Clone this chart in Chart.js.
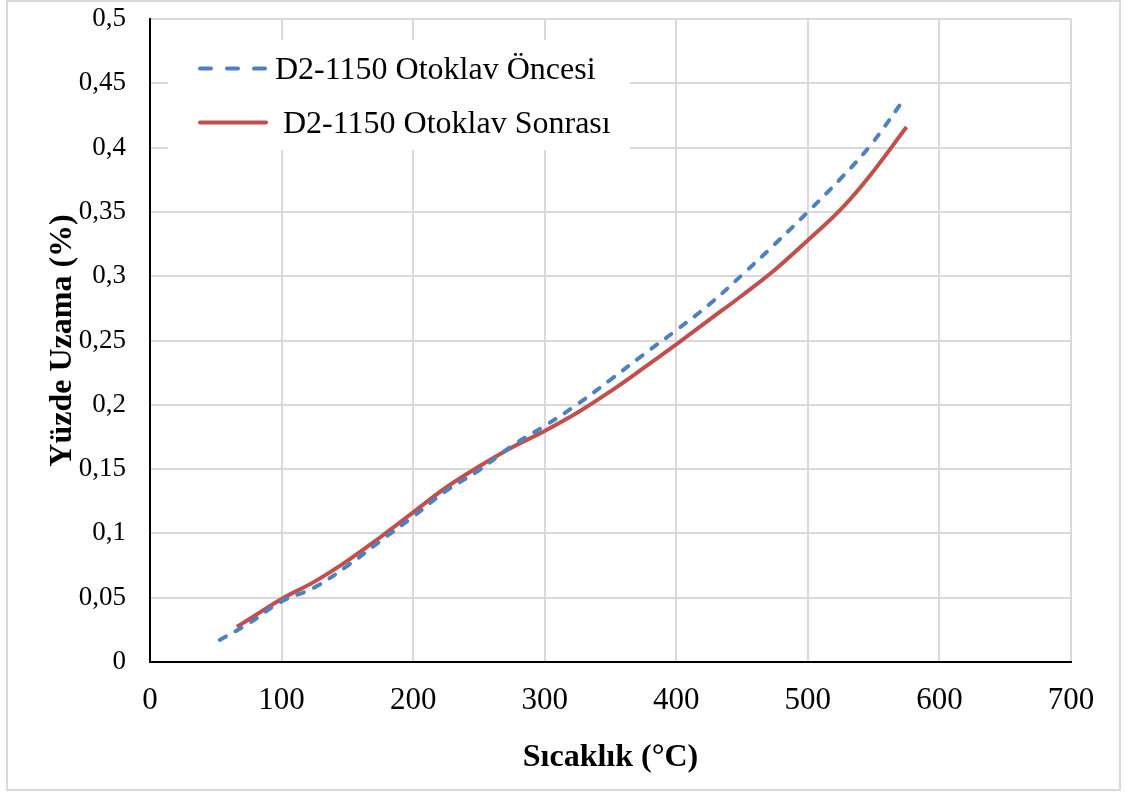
<!DOCTYPE html>
<html>
<head>
<meta charset="utf-8">
<script src="https://cdn.jsdelivr.net/npm/chart.js@4"></script>
<style>
  html, body { margin: 0; padding: 0; background: #fff; }
  #wrap { position: absolute; left: 0; top: 0; width: 1127px; height: 793px; }
</style>
</head>
<body>
<div id="wrap"><canvas id="chart" width="1127" height="793"></canvas></div>
<script>
// DONNEES
const seriesNames = ['D2-1150 Otoklav Öncesi', 'D2-1150 Otoklav Sonrası'];

const onceT = [53, 75, 100, 125, 150, 175, 200, 225, 250, 275, 300, 325, 350, 375, 400, 425, 450, 475, 500, 525, 547, 572];
const onceY = [0.0172, 0.030, 0.047, 0.058, 0.0748, 0.094, 0.113, 0.133, 0.149, 0.168, 0.1836, 0.2005, 0.2195, 0.239, 0.258, 0.278, 0.301, 0.325, 0.350, 0.376, 0.401, 0.436];

const sonraT = [66, 75, 100, 125, 150, 175, 200, 225, 250, 275, 300, 325, 350, 375, 400, 425, 450, 475, 500, 525, 547, 575];
const sonraY = [0.0274, 0.033, 0.049, 0.0625, 0.0787, 0.097, 0.1163, 0.1357, 0.152, 0.1668, 0.1797, 0.194, 0.2105, 0.2285, 0.247, 0.266, 0.285, 0.305, 0.328, 0.352, 0.378, 0.416];

const xTicks = [0, 100, 200, 300, 400, 500, 600, 700];
const yTicks = [0, 0.05, 0.1, 0.15, 0.2, 0.25, 0.3, 0.35, 0.4, 0.45, 0.5];

const toPoints = (xs, ys) => xs.map((x, i) => ({ x: x, y: ys[i] }));
const fmtComma = v => String(+v.toFixed(2)).replace('.', ',');

const BLUE = '#4F81BD';
const RED = '#C0504D';
const SERIF = '"Liberation Serif", "Times New Roman", serif';

// cadre gris autour de l'image
const framePlugin = {
    id: 'frame',
    beforeDraw(chart) {
        const ctx = chart.ctx;
        ctx.save();
        ctx.fillStyle = '#fff';
        ctx.fillRect(0, 0, chart.width, chart.height);
        ctx.strokeStyle = '#d9d9d9';
        ctx.lineWidth = 2;
        ctx.strokeRect(7, 1, 1113, 789);
        ctx.restore();
    }
};

// legende dans la zone du graphique
const legendPlugin = {
    id: 'insideLegend',
    afterDraw(chart) {
        const ctx = chart.ctx;
        const ds = chart.data.datasets;
        ctx.save();
        ctx.fillStyle = '#fff';
        ctx.fillRect(168, 40, 462, 110);
        const rows = [
            { y: 68.5, x0: 198, x1: 267, tx: 275, dash: [11, 16] },
            { y: 122.5, x0: 198, x1: 268, tx: 283, dash: [] }
        ];
        rows.forEach((r, i) => {
            ctx.beginPath();
            ctx.strokeStyle = ds[i].borderColor;
            ctx.lineWidth = 4;
            ctx.lineCap = 'round';
            ctx.setLineDash(r.dash);
            ctx.moveTo(r.x0 + 2, r.y);
            ctx.lineTo(r.x1 - 2, r.y);
            ctx.stroke();
            ctx.setLineDash([]);
            ctx.fillStyle = '#000';
            ctx.font = '32px ' + SERIF;
            ctx.textBaseline = 'alphabetic';
            ctx.textAlign = 'left';
            ctx.fillText(ds[i].label, r.tx, r.y + 10);
        });
        ctx.restore();
    }
};

new Chart(document.getElementById('chart').getContext('2d'), {
    type: 'line',
    data: {
        datasets: [
            {
                label: seriesNames[0],
                data: toPoints(onceT, onceY),
                borderColor: BLUE,
                borderWidth: 4,
                borderDash: [7, 11],
                borderCapStyle: 'round',
                pointRadius: 0,
                tension: 0.4,
                fill: false
            },
            {
                label: seriesNames[1],
                data: toPoints(sonraT, sonraY),
                borderColor: RED,
                borderWidth: 4,
                pointRadius: 0,
                tension: 0.4,
                fill: false
            }
        ]
    },
    options: {
        responsive: false,
        animation: false,
        layout: { padding: { left: 10, right: 56, top: 19, bottom: 8 } },
        plugins: { legend: { display: false }, tooltip: { enabled: false } },
        scales: {
            x: {
                type: 'linear',
                min: 0, max: 700,
                afterBuildTicks: s => { s.ticks = xTicks.map(v => ({ value: v })); },
                afterFit: s => { s.height = 123; s.paddingLeft = 0; s.paddingRight = 0; },
                grid: { color: '#d9d9d9', lineWidth: 2, drawTicks: false },
                border: { color: '#000', width: 2 },
                ticks: { color: '#000', font: { family: SERIF, size: 31 }, padding: 20, maxRotation: 0 },
                title: { display: true, text: 'Sıcaklık (°C)', color: '#000', font: { family: SERIF, size: 32, weight: 'bold' }, padding: { top: 10, bottom: 8 } }
            },
            y: {
                type: 'linear',
                min: 0, max: 0.5,
                afterBuildTicks: s => { s.ticks = yTicks.map(v => ({ value: v })); },
                afterFit: s => { s.width = 140; s.paddingTop = 0; s.paddingBottom = 0; },
                grid: { color: '#d9d9d9', lineWidth: 2, drawTicks: false },
                border: { color: '#000', width: 2 },
                ticks: { color: '#000', font: { family: SERIF, size: 27 }, padding: 24, callback: v => fmtComma(v) },
                title: { display: true, text: 'Yüzde Uzama (%)', color: '#000', font: { family: SERIF, size: 32, weight: 'bold' }, padding: { top: 34, bottom: 0 } }
            }
        }
    },
    plugins: [framePlugin, legendPlugin]
});
</script>
</body>
</html>
